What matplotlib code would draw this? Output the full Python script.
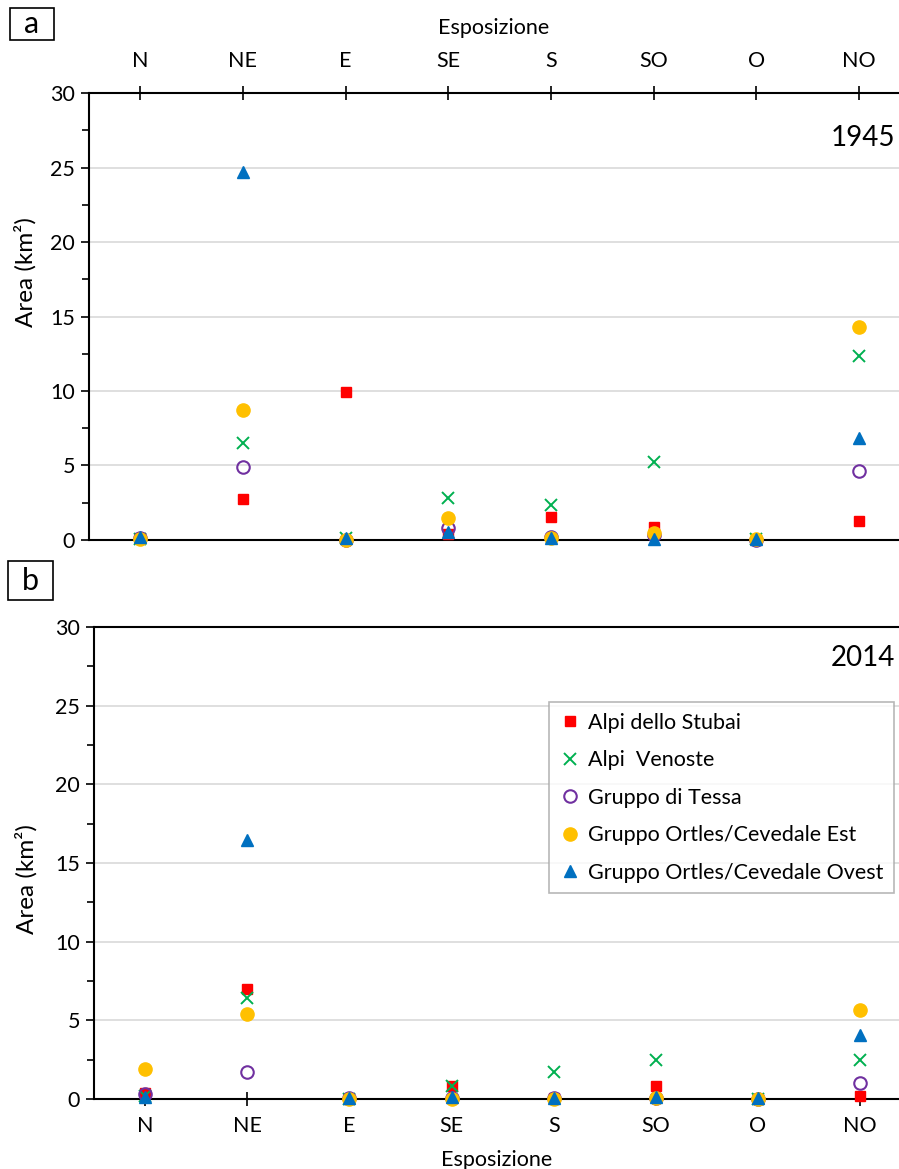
import matplotlib
matplotlib.use("Agg")
import matplotlib.pyplot as plt
from matplotlib.patches import Rectangle
from matplotlib.ticker import MultipleLocator

plt.rcParams["font.family"] = ["Lato", "DejaVu Sans"]

# exposure classes
esposizione = ["N", "NE", "E", "SE", "S", "SO", "O", "NO"]
gruppi = ["Alpi dello Stubai", "Alpi  Venoste", "Gruppo di Tessa",
          "Gruppo Ortles/Cevedale Est", "Gruppo Ortles/Cevedale Ovest"]

# area (km2) per exposure, 1945
stubai_1945 = [0.1, 2.75, 9.9, 0.4, 1.55, 0.85, 0.0, 1.3]
venoste_1945 = [0.05, 6.5, 0.1, 2.8, 2.35, 5.25, 0.05, 12.35]
tessa_1945 = [0.1, 4.9, 0.0, 0.8, 0.2, 0.3, 0.0, 4.6]
est_1945 = [0.05, 8.7, 0.0, 1.45, 0.1, 0.45, 0.05, 14.3]
ovest_1945 = [0.2, 24.7, 0.1, 0.55, 0.1, 0.05, 0.05, 6.85]

# area (km2) per exposure, 2014
stubai_2014 = [0.35, 7.0, 0.0, 0.8, 0.05, 0.85, 0.0, 0.2]
venoste_2014 = [0.2, 6.4, 0.0, 0.8, 1.7, 2.5, 0.0, 2.5]
tessa_2014 = [0.3, 1.7, 0.05, 0.05, 0.05, 0.05, 0.0, 1.0]
est_2014 = [1.9, 5.4, 0.0, 0.0, 0.0, 0.05, 0.0, 5.65]
ovest_2014 = [0.15, 16.45, 0.05, 0.1, 0.05, 0.1, 0.05, 4.05]

styles = [
    dict(marker="s", color="#FF0000", ms=7.5, ls="none"),
    dict(marker="x", color="#00B050", ms=8, mew=1.4, ls="none"),
    dict(marker="o", mfc="none", mec="#7030A0", ms=9, mew=1.5, ls="none"),
    dict(marker="o", color="#FFC000", ms=9.5, ls="none"),
    dict(marker="^", color="#0070C0", ms=8, ls="none"),
]

fs = 15.5

fig = plt.figure(figsize=(8.99, 11.69), dpi=100)
ax1 = fig.add_axes([0.099, 0.5381, 0.901, 0.3823])
ax2 = fig.add_axes([0.1046, 0.0599, 0.8954, 0.4038])

x = list(range(1, 9))
data = {
    ax1: [stubai_1945, venoste_1945, tessa_1945, est_1945, ovest_1945],
    ax2: [stubai_2014, venoste_2014, tessa_2014, est_2014, ovest_2014],
}

for ax, series in data.items():
    for vals, st, lab in zip(series, styles, gruppi):
        ax.plot(x, vals, label=lab, clip_on=False, zorder=3, **st)
    ax.set_ylim(0, 30)
    ax.yaxis.set_major_locator(MultipleLocator(5))
    ax.yaxis.set_minor_locator(MultipleLocator(2.5))
    ax.grid(axis="y", color="#D9D9D9", lw=1.2, zorder=0)
    ax.set_axisbelow(True)
    ax.tick_params(axis="y", which="major", direction="out", length=6,
                   width=1.2, labelsize=fs, pad=4)
    ax.tick_params(axis="y", which="minor", direction="out", length=5, width=1.2)
    ax.set_xticks(x)
    ax.set_xticklabels(esposizione)
    ax.spines["right"].set_visible(False)
    for s in ["left", "top", "bottom"]:
        ax.spines[s].set_linewidth(1.5)
    ax.set_ylabel("Area (km²)", fontsize=17.5)

ax1.yaxis.set_label_coords(-0.065, 0.60)
ax2.yaxis.set_label_coords(-0.070, 0.466)

# top panel: x axis on top
ax1.set_xlim(0.5, 8.39)
ax1.xaxis.set_ticks_position("top")
ax1.xaxis.set_label_position("top")
ax1.tick_params(axis="x", direction="inout", length=10, width=1.2,
                labelsize=fs, pad=11)
ax1.set_xlabel("Esposizione", fontsize=fs, labelpad=12)
ax1.text(0.995, 0.9, "1945", transform=ax1.transAxes, ha="right",
         va="center", fontsize=20)

# bottom panel
ax2.set_xlim(0.5, 8.38)
ax2.tick_params(axis="x", direction="inout", length=10, width=1.2,
                labelsize=fs, pad=7)
ax2.set_xlabel("Esposizione", fontsize=fs, labelpad=10)
ax2.text(0.995, 0.935, "2014", transform=ax2.transAxes, ha="right",
         va="center", fontsize=20)
leg = ax2.legend(loc="upper left", bbox_to_anchor=(0.565, 0.841),
                 borderaxespad=0, fontsize=fs, frameon=True, fancybox=False,
                 edgecolor="#A6A6A6", labelspacing=0.81, handletextpad=0.3,
                 handlelength=1.0, borderpad=0.5)
leg.get_frame().set_linewidth(1.2)

# panel letters
for (x0, y0, w, h), letter in [((0.0111, 0.9658, 0.049, 0.0274), "a"),
                               ((0.0089, 0.4867, 0.050, 0.0334), "b")]:
    fig.patches.append(Rectangle((x0, y0), w, h, transform=fig.transFigure,
                                 fc="white", ec="black", lw=1.2))
    fig.text(x0 + w / 2, y0 + h / 2, letter, fontsize=22, ha="center",
             va="center")

fig.savefig("out.png", dpi=100)
